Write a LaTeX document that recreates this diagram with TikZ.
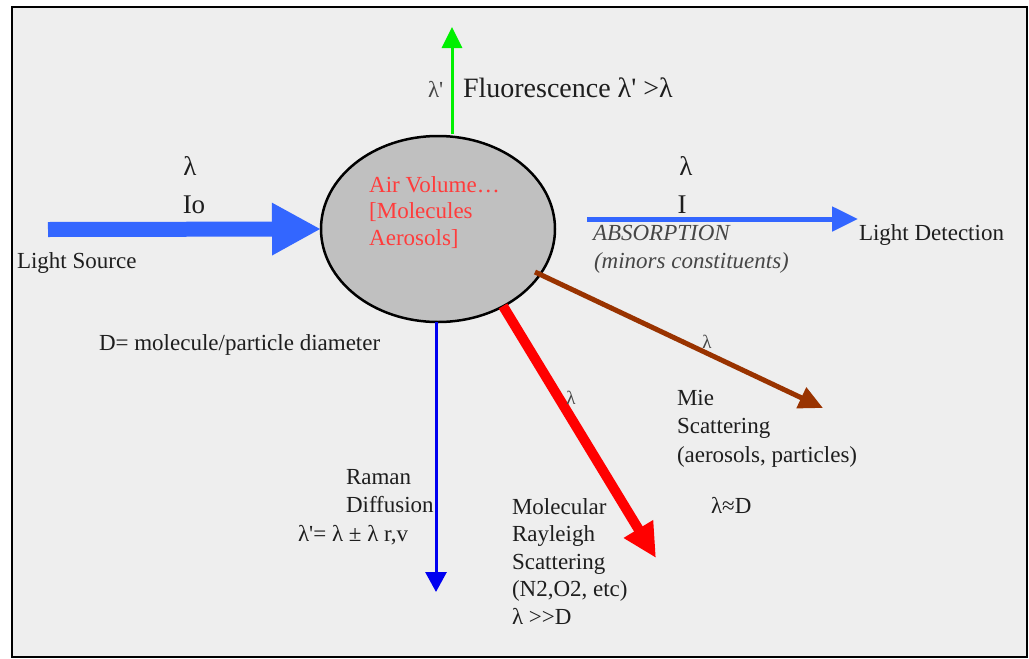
\documentclass[tikz,border=0pt]{standalone}
\usepackage{fontspec}
\setmainfont{Liberation Serif}[Ligatures=TeXOff]
\usetikzlibrary{arrows.meta,shapes.geometric}
\definecolor{bgray}{HTML}{EEEEEE}
\definecolor{ellgray}{HTML}{C0C0C0}
\definecolor{lsblue}{RGB}{51,102,255}
\definecolor{ramblue}{RGB}{0,0,240}
\definecolor{flgreen}{RGB}{0,240,0}
\definecolor{rayred}{RGB}{255,0,0}
\definecolor{miebrown}{RGB}{153,51,0}
\definecolor{txt}{RGB}{30,30,30}
\definecolor{txtlight}{RGB}{70,70,70}
\definecolor{airred}{RGB}{255,60,60}
\newcommand\mylines[2]{{\renewcommand\arraystretch{1}\fontsize{23}{#1}\selectfont\begin{tabular}[t]{@{}l@{}}#2\end{tabular}}}
\begin{document}
\begin{tikzpicture}[x=1pt,y=-1pt,
  lbl/.style={anchor=base west,inner sep=0pt,outer sep=0pt,text=txt,font=\fontsize{23}{28}\selectfont},
  big/.style={anchor=base,inner sep=0pt,outer sep=0pt,text=txt,font=\fontsize{27}{32}\selectfont},
  small/.style={anchor=base,inner sep=0pt,outer sep=0pt,text=txtlight,font=\fontsize{19}{22}\selectfont},
  arr/.style={line cap=butt}]
\useasboundingbox (0,0) rectangle (1029,659);
\fill[white] (0,0) rectangle (1029,659);
\draw[line width=2.5pt,fill=bgray] (12,7) rectangle (1027,657);

% central ellipse
\node[ellipse,draw,line width=2.5pt,fill=ellgray,minimum width=234pt,minimum height=186pt,inner sep=0pt,outer sep=0pt] (air) at (438,229) {};
\node[anchor=base west,inner sep=0pt,text=airred] (airtxt) at (369,192)
  {\fontsize{23}{26.5}\selectfont\begin{tabular}[t]{@{}l@{}}Air Volume…\\{[}Molecules\\Aerosols]\end{tabular}};

% coordinates of free ends
\coordinate (src) at (48,229.5);
\coordinate (absA) at (587,219);
\coordinate (absB) at (858,219);
\coordinate (flA) at (452,134);
\coordinate (flB) at (452,27);
\coordinate (ramA) at (436,322);
\coordinate (ramB) at (436,592);
\coordinate (rayA) at (503,306);
\coordinate (rayB) at (656,558);
\coordinate (mieA) at (535,272);
\coordinate (mieB) at (823,408);

% arrows
\draw[arr,line width=15pt,lsblue,-{Triangle[length=49pt,width=49pt]}] (src) -- (air.west);
\draw[arr,line width=5pt,lsblue,-{Triangle[length=26pt,width=24pt]}] (absA) -- (absB);
\draw[arr,line width=3pt,flgreen,-{Triangle[length=21pt,width=20pt]}] (flA) -- (flB);
\draw[arr,line width=3pt,ramblue,-{Triangle[length=20pt,width=21pt]}] (ramA) -- (ramB);
\draw[arr,line width=10pt,rayred,-{Triangle[length=34pt,width=32pt]}] (rayA) -- (rayB);
\draw[arr,line width=5pt,miebrown,-{Triangle[length=24pt,width=22pt]}] (mieA) -- (mieB);

% labels
\node[big] (lamIn) at (190,175) {λ};
\node[big] (io) at (194,213) {Io};
\node[lbl] (lsrc) at (17,268) {Light Source};
\node[lbl] (dlab) at (99,350) {D= molecule/particle diameter};

\node[big] (lamOut) at (686,175) {λ};
\node[big] (iout) at (682,213) {I};
\node[lbl,text=txtlight,font=\fontsize{23}{28}\selectfont\itshape] (absorp) at (593,240) {ABSORPTION};
\node[lbl,text=txtlight,font=\fontsize{23}{28}\selectfont\itshape] (minors) at (594,268) {(minors constituents)};
\node[lbl] (ldet) at (859,240) {Light Detection};

\node[lbl,text=txtlight,font=\fontsize{23}{28}\selectfont] (lamfl) at (428,97) {λ'};
\node[lbl,font=\fontsize{28}{32}\selectfont] (fluo) at (463,97) {Fluorescence λ' >λ};

\node[small] (lamMie) at (707,348) {λ};
\node[small] (lamRay) at (571,404) {λ};

\node[lbl] (mie) at (677,405) {\mylines{28.5}{Mie\\Scattering\\(aerosols, particles)}};
\node[lbl] (mieD) at (711,513) {λ≈D};

\node[lbl] (raman) at (346,484) {\mylines{28.5}{Raman\\Diffusion}};
\node[lbl] (ramanF) at (298,541) {λ'= λ ± λ r,v};

\node[lbl] (ray) at (512,514) {\mylines{27.5}{Molecular\\Rayleigh\\Scattering\\(N2,O2, etc)\\λ >>D}};
\end{tikzpicture}
\end{document}
